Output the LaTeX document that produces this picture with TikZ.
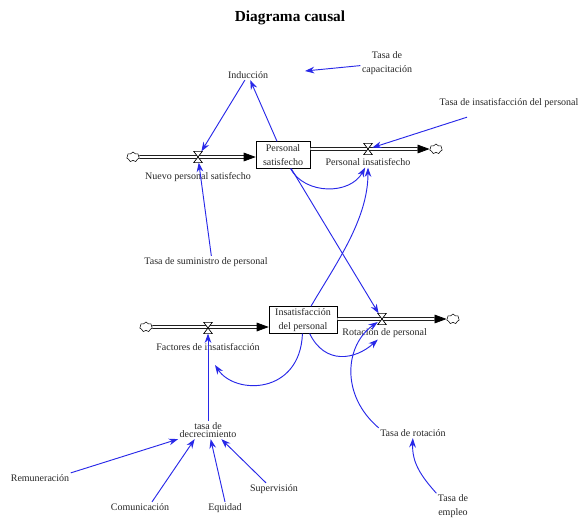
\documentclass[tikz,border=0pt]{standalone}
\usepackage{fontspec}
\setmainfont{Liberation Serif}
\usetikzlibrary{shapes.symbols, arrows.meta, positioning}
\definecolor{linkblue}{RGB}{40,40,232}

\begin{document}
\begin{tikzpicture}[x=0.75pt, y=-0.75pt, font=\fontsize{7.5}{10}\selectfont]
    \tikzstyle{lbl} = [inner sep=1pt, align=center, text=black!85]
    \tikzstyle{stock} = [rectangle, draw=black, fill=white, align=center, inner sep=1.5pt, minimum height=20pt, text=black!85]
    \tikzstyle{valve} = [inner sep=0pt, minimum width=6pt, minimum height=8pt]
    \tikzstyle{sink} = [cloud, draw, cloud puffs=7, aspect=1.3, inner sep=0pt, minimum width=9.5pt, minimum height=7.5pt]
    \tikzstyle{pipe} = [double, double distance=1.6pt, line width=0.55pt, -{Triangle[length=9pt, width=6.5pt]}]
    \tikzstyle{link} = [draw=linkblue, line width=0.7pt, -{Stealth[length=7pt, width=5pt]}]

    \useasboundingbox (0,0) rectangle (581,522);

    \node (title) [font=\fontsize{11.5}{13}\selectfont\bfseries] at (290,18) {Diagrama causal};

    % stocks, clouds and valves
    \node (psat) [stock, minimum width=40.5pt] at (283,155) {Personal\\satisfecho};
    \node (insat) [stock, minimum width=51pt] at (303,320) {Insatisfacción\\del personal};
    \node (cloud1) [sink] at (133,157) {};
    \node (cloud2) [sink] at (436,149) {};
    \node (cloud3) [sink] at (146,327) {};
    \node (cloud4) [sink] at (453,319) {};
    \node (vnuevo) [valve] at (198,157) {};
    \node (vinsat) [valve] at (368,149) {};
    \node (vfact) [valve] at (208,328) {};
    \node (vrot) [valve] at (382,319) {};

    \node (nuevo) [lbl, below=6pt of vnuevo] {Nuevo personal satisfecho};
    \node (pinsat) [lbl, below=2pt of vinsat] {Personal insatisfecho};
    \node (factlbl) [lbl, below=6pt of vfact] {Factores de insatisfacción};
    \node (rotlbl) [lbl, below=2pt of vrot, xshift=2pt] {Rotación de personal};

    % auxiliaries
    \node (induc) [lbl] at (248,75) {Inducción};
    \node (tcap) [lbl] at (387,63) {Tasa de\\capacitación};
    \node (tinsat) [lbl] at (509,103) {Tasa de insatisfacción del personal};
    \node (tsum) [lbl] at (206,262) {Tasa de suministro de personal};
    \node (tdec) [lbl, font=\fontsize{7.5}{6}\selectfont] at (208,430) {tasa de\\decrecimiento};
    \node (trot) [lbl] at (413,433) {Tasa de rotación};
    \node (templeo) [lbl] at (453,506) {Tasa de\\empleo};
    \node (remun) [lbl] at (40,478) {Remuneración};
    \node (comun) [lbl] at (140,507) {Comunicación};
    \node (equid) [lbl] at (225,508) {Equidad};
    \node (superv) [lbl] at (274,489) {Supervisión};
    \coordinate (capend) at (305,71);
    \coordinate (factend) at (215,365);

    \draw [pipe] (cloud1) -- (psat.west |- cloud1);
    \draw [pipe] (psat.east |- cloud2) -- (cloud2);
    \draw [pipe] (cloud3) -- (insat.west |- cloud3);
    \draw [pipe] (insat.east |- cloud4) -- (cloud4);
    \foreach \v in {vnuevo, vinsat, vfact, vrot}
        \draw [fill=white, line width=0.5pt] (\v.north west) -- (\v.north east) -- (\v.south west) -- (\v.south east) -- cycle;

    \draw [link] (tcap) -- (capend);
    \draw [link] (induc) -- (vnuevo);
    \draw [link] (psat) -- (induc);
    \draw [link] (tinsat.south) ++(-42,8) -- (vinsat);
    \draw [link] ([xshift=4pt]tsum.north) -- (vnuevo);
    \draw [link] (psat) .. controls (305,195) and (350,195) .. (pinsat);
    \draw [link] (psat) -- (vrot);
    \draw [link] (insat) .. controls (335,265) and (368,220) .. (pinsat);
    \draw [link] (insat) .. controls (300,395) and (235,395) .. (factend);
    \draw [link] (insat) .. controls (325,365) and (355,360) .. (rotlbl);
    \draw [link] (trot.north west) .. controls (340,395) and (345,345) .. (vrot);
    \draw [link] (templeo.north west) .. controls (420,475) and (412,462) .. (trot);
    \draw [link] (tdec) -- (vfact);
    \draw [link] (remun.north east) -- (tdec.south west);
    \draw [link] ([xshift=9pt]comun.north) -- ([xshift=-10pt]tdec.south);
    \draw [link] (equid.north) -- ([xshift=2pt]tdec.south);
    \draw [link] ([xshift=-6pt]superv.north) -- ([xshift=10pt]tdec.south);
\end{tikzpicture}
\end{document}
